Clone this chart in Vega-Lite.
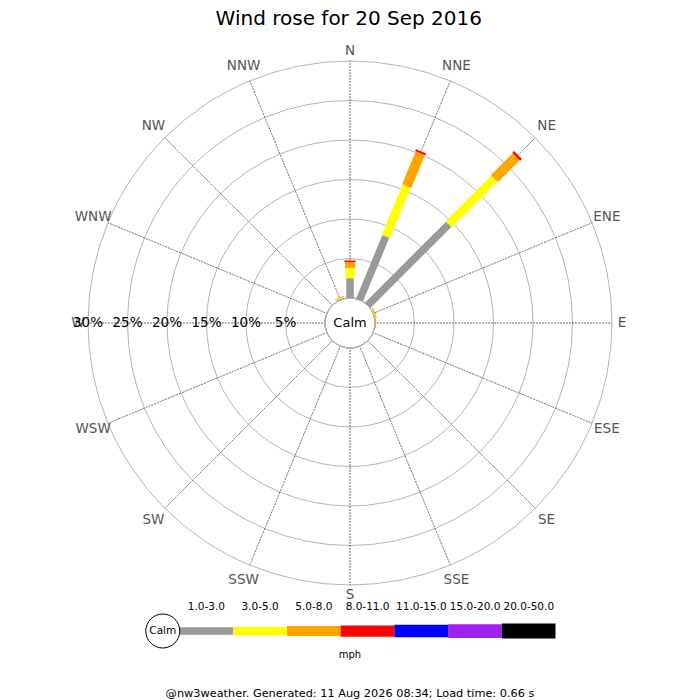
{
  "$schema": "https://vega.github.io/schema/vega-lite/v6.json",
  "autosize": {"type": "pad"},
  "padding": {"left": 71, "top": 8, "right": 0, "bottom": 0},
  "background": "white",
  "title": {
    "text": "Wind rose for 20 Sep 2016",
    "fontSize": 20,
    "fontWeight": "normal",
    "color": "black",
    "anchor": "middle",
    "offset": 15
  },
  "config": {"font": "DejaVu Sans", "view": {"stroke": null}},
  "bounds": "flush",
  "center": true,
  "spacing": 22,
  "datasets": {
    "rings": [
      {"pct": 5, "label": "5%"},
      {"pct": 10, "label": "10%"},
      {"pct": 15, "label": "15%"},
      {"pct": 20, "label": "20%"},
      {"pct": 25, "label": "25%"},
      {"pct": 30, "label": "30%"}
    ],
    "dirs": [
      {"dir": "N", "angle": 0},
      {"dir": "NNE", "angle": 22.5},
      {"dir": "NE", "angle": 45},
      {"dir": "ENE", "angle": 67.5},
      {"dir": "E", "angle": 90},
      {"dir": "ESE", "angle": 112.5},
      {"dir": "SE", "angle": 135},
      {"dir": "SSE", "angle": 157.5},
      {"dir": "S", "angle": 180},
      {"dir": "SSW", "angle": 202.5},
      {"dir": "SW", "angle": 225},
      {"dir": "WSW", "angle": 247.5},
      {"dir": "W", "angle": 270},
      {"dir": "WNW", "angle": 292.5},
      {"dir": "NW", "angle": 315},
      {"dir": "NNW", "angle": 337.5}
    ],
    "bars": [
      {"dir": "N", "angle": 0, "cat": "1.0-3.0", "idx": 0, "pct": 2.5},
      {"dir": "N", "angle": 0, "cat": "3.0-5.0", "idx": 1, "pct": 1.3},
      {"dir": "N", "angle": 0, "cat": "5.0-8.0", "idx": 2, "pct": 0.75},
      {"dir": "N", "angle": 0, "cat": "8.0-11.0", "idx": 3, "pct": 0.2},
      {"dir": "NNE", "angle": 22.5, "cat": "1.0-3.0", "idx": 0, "pct": 8.7},
      {"dir": "NNE", "angle": 22.5, "cat": "3.0-5.0", "idx": 1, "pct": 6.9},
      {"dir": "NNE", "angle": 22.5, "cat": "5.0-8.0", "idx": 2, "pct": 4.5},
      {"dir": "NNE", "angle": 22.5, "cat": "8.0-11.0", "idx": 3, "pct": 0.25},
      {"dir": "NE", "angle": 45, "cat": "1.0-3.0", "idx": 0, "pct": 14.5},
      {"dir": "NE", "angle": 45, "cat": "3.0-5.0", "idx": 1, "pct": 8.2},
      {"dir": "NE", "angle": 45, "cat": "5.0-8.0", "idx": 2, "pct": 3.9},
      {"dir": "NE", "angle": 45, "cat": "8.0-11.0", "idx": 3, "pct": 0.3},
      {"dir": "ENE", "angle": 67.5, "cat": "3.0-5.0", "idx": 1, "pct": 0.1},
      {"dir": "ENE", "angle": 67.5, "cat": "5.0-8.0", "idx": 2, "pct": 0.15},
      {"dir": "E", "angle": 90, "cat": "5.0-8.0", "idx": 2, "pct": 0.12},
      {"dir": "NNW", "angle": 337.5, "cat": "1.0-3.0", "idx": 0, "pct": 0.1},
      {"dir": "NNW", "angle": 337.5, "cat": "3.0-5.0", "idx": 1, "pct": 0.12},
      {"dir": "NNW", "angle": 337.5, "cat": "5.0-8.0", "idx": 2, "pct": 0.1}
    ],
    "cats": [
      {"cat": "1.0-3.0", "idx": 0},
      {"cat": "3.0-5.0", "idx": 1},
      {"cat": "5.0-8.0", "idx": 2},
      {"cat": "8.0-11.0", "idx": 3},
      {"cat": "11.0-15.0", "idx": 4},
      {"cat": "15.0-20.0", "idx": 5},
      {"cat": "20.0-50.0", "idx": 6}
    ]
  },
  "vconcat": [
    {
      "width": 524,
      "height": 524,
      "layer": [
        {
          "data": {"name": "rings"},
          "mark": {"type": "arc", "filled": false, "stroke": "#b4b4b4", "strokeWidth": 1},
          "encoding": {
            "theta": {"datum": 0, "type": "quantitative", "scale": {"type": "linear", "domain": [0, 360], "range": [0, 6.283185307179586], "zero": false, "nice": false}},
            "theta2": {"datum": 360},
            "radius": {"field": "pct", "type": "quantitative", "stack": null, "scale": {"type": "linear", "domain": [0, 30], "range": [25, 262], "zero": false, "nice": false}}
          }
        },
        {
          "data": {"name": "dirs"},
          "mark": {"type": "arc", "filled": false, "stroke": "#666666", "strokeWidth": 1, "strokeDash": [1, 2]},
          "encoding": {
            "theta": {"field": "angle", "type": "quantitative", "stack": null},
            "theta2": {"field": "angle"},
            "radius": {"datum": 30, "type": "quantitative"},
            "radius2": {"datum": 0}
          }
        },
        {
          "data": {"values": [{"pct": 0}]},
          "mark": {"type": "arc", "fill": "white", "stroke": "#b4b4b4", "strokeWidth": 1},
          "encoding": {
            "theta": {"datum": 0, "type": "quantitative"},
            "theta2": {"datum": 360},
            "radius": {"field": "pct", "type": "quantitative", "stack": null}
          }
        },
        {
          "data": {"name": "bars"},
          "transform": [
            {"stack": "pct", "groupby": ["dir"], "sort": [{"field": "idx", "order": "ascending"}], "as": ["r0", "r1"]}
          ],
          "mark": {"type": "arc", "filled": false, "strokeCap": "butt", "strokeJoin": "miter"},
          "encoding": {
            "theta": {"field": "angle", "type": "quantitative", "stack": null},
            "theta2": {"field": "angle"},
            "radius": {"field": "r1", "type": "quantitative", "stack": null},
            "radius2": {"field": "r0"},
            "color": {
              "field": "cat", "type": "nominal", "legend": null,
              "scale": {
                "domain": ["1.0-3.0", "3.0-5.0", "5.0-8.0", "8.0-11.0", "11.0-15.0", "15.0-20.0", "20.0-50.0"],
                "range": ["#999999", "#ffff00", "#ffa500", "#ff0000", "#0000ff", "#a020f0", "#000000"]
              }
            },
            "strokeWidth": {
              "field": "cat", "type": "ordinal", "legend": null,
              "scale": {
                "domain": ["1.0-3.0", "3.0-5.0", "5.0-8.0", "8.0-11.0", "11.0-15.0", "15.0-20.0", "20.0-50.0"],
                "range": [7.5, 15, 21, 23, 25, 27, 29]
              }
            }
          }
        },
        {
          "data": {"name": "dirs"},
          "transform": [{"filter": "datum.angle % 90 == 0"}],
          "mark": {"type": "text", "fontSize": 13.5, "color": "#555555", "align": "center", "baseline": "middle"},
          "encoding": {
            "theta": {"field": "angle", "type": "quantitative", "stack": null},
            "radius": {"datum": 31.27, "type": "quantitative"},
            "text": {"field": "dir"}
          }
        },
        {
          "data": {"name": "dirs"},
          "transform": [{"filter": "datum.angle % 90 != 0"}],
          "mark": {"type": "text", "fontSize": 13.5, "color": "#555555", "align": "center", "baseline": "middle"},
          "encoding": {
            "theta": {"field": "angle", "type": "quantitative", "stack": null},
            "radius": {"datum": 32.03, "type": "quantitative"},
            "text": {"field": "dir"}
          }
        },
        {
          "data": {"name": "rings"},
          "mark": {"type": "text", "fontSize": 13.5, "color": "black", "align": "center", "baseline": "middle"},
          "encoding": {
            "theta": {"datum": 270, "type": "quantitative"},
            "radius": {"field": "pct", "type": "quantitative", "stack": null},
            "text": {"field": "label"}
          }
        },
        {
          "data": {"values": [{"t": "Calm"}]},
          "mark": {"type": "text", "fontSize": 13, "color": "black", "align": "center", "baseline": "middle"},
          "encoding": {"text": {"field": "t"}}
        }
      ]
    },
    {
      "width": 411,
      "height": 48,
      "title": {
        "text": "@nw3weather. Generated: 11 Aug 2026 08:34; Load time: 0.66 s",
        "orient": "bottom",
        "fontSize": 11.3,
        "fontWeight": "normal",
        "color": "black",
        "anchor": "middle",
        "offset": 28
      },
      "layer": [
        {
          "data": {"name": "cats"},
          "transform": [
            {"aggregate": [{"op": "count", "as": "n"}], "groupby": ["cat", "idx"]},
            {"stack": "n", "groupby": [], "sort": [{"field": "idx", "order": "ascending"}], "as": ["s0", "s1"]}
          ],
          "mark": {"type": "rule", "strokeCap": "butt"},
          "encoding": {
            "x": {"field": "s0", "type": "quantitative", "axis": null, "scale": {"domain": [-0.65, 7], "zero": false, "nice": false}},
            "x2": {"field": "s1"},
            "y": {"datum": "bar", "type": "ordinal", "axis": null, "scale": {"type": "point", "domain": ["label", "bar", "unit"], "padding": 0}},
            "color": {
              "field": "cat", "type": "nominal", "legend": null,
              "scale": {
                "domain": ["1.0-3.0", "3.0-5.0", "5.0-8.0", "8.0-11.0", "11.0-15.0", "15.0-20.0", "20.0-50.0"],
                "range": ["#999999", "#ffff00", "#ffa500", "#ff0000", "#0000ff", "#a020f0", "#000000"]
              }
            },
            "strokeWidth": {
              "field": "cat", "type": "ordinal", "legend": null,
              "scale": {
                "domain": ["1.0-3.0", "3.0-5.0", "5.0-8.0", "8.0-11.0", "11.0-15.0", "15.0-20.0", "20.0-50.0"],
                "range": [7.5, 15, 21, 23, 25, 27, 29]
              }
            }
          }
        },
        {
          "data": {"name": "cats"},
          "transform": [
            {"aggregate": [{"op": "count", "as": "n"}], "groupby": ["cat", "idx"]},
            {"stack": "n", "groupby": [], "sort": [{"field": "idx", "order": "ascending"}], "as": ["s0", "s1"]}
          ],
          "mark": {"type": "text", "fontSize": 10.5, "color": "black", "align": "center", "baseline": "middle", "dx": 27},
          "encoding": {
            "x": {"field": "s0", "type": "quantitative"},
            "y": {"datum": "label", "type": "ordinal"},
            "text": {"field": "cat"}
          }
        },
        {
          "data": {"values": [{"t": "Calm"}]},
          "mark": {"type": "point", "shape": "circle", "size": 1156, "filled": true, "fill": "white", "stroke": "black", "strokeWidth": 1, "opacity": 1},
          "encoding": {
            "x": {"datum": -0.31, "type": "quantitative"},
            "y": {"datum": "bar", "type": "ordinal"}
          }
        },
        {
          "data": {"values": [{"t": "Calm"}]},
          "mark": {"type": "text", "fontSize": 10.5, "color": "black", "align": "center", "baseline": "middle"},
          "encoding": {
            "x": {"datum": -0.31, "type": "quantitative"},
            "y": {"datum": "bar", "type": "ordinal"},
            "text": {"field": "t"}
          }
        },
        {
          "data": {"values": [{"t": "mph"}]},
          "mark": {"type": "text", "fontSize": 10, "color": "black", "align": "center", "baseline": "middle"},
          "encoding": {
            "y": {"datum": "unit", "type": "ordinal"},
            "text": {"field": "t"}
          }
        }
      ]
    }
  ]
}
